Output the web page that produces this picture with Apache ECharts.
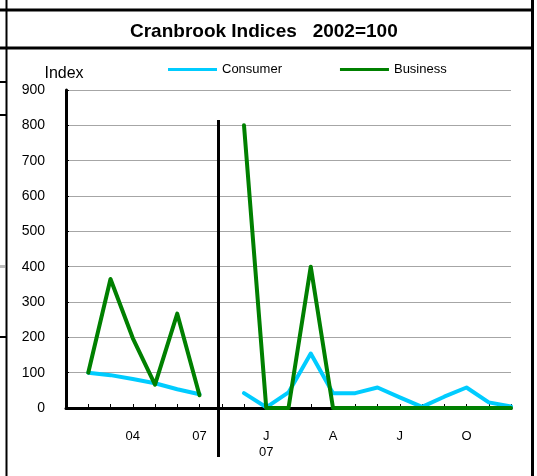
<!DOCTYPE html>
<html>
<head>
<meta charset="utf-8">
<script src="https://cdn.jsdelivr.net/npm/echarts@6/dist/echarts.min.js"></script>
<style>
html,body{margin:0;padding:0;background:#fff;}
#chart{width:537px;height:476px;}
</style>
</head>
<body>
<div id="chart"></div>
<script>
// Categories (one per month; first slot is the axis origin, 8th slot is the gap between the two panels)
const categories = ['', '', '', '04', '', '', '07', '', '', 'J\n07', '', '', 'A', '', '', 'J', '', '', 'O', '', ''];
const consumer = [null, 100, 93, 82, 70, 53, 39, null, 42, 2, 44, 154, 42, 42, 58, 30, 3, 32, 58, 16, 4];
const business = [null, 100, 365, 198, 66, 267, 36, null, 800, 0, 0, 400, 0, 0, 0, 0, 0, 0, 0, 0, 0];
const yTicks = [0, 100, 200, 300, 400, 500, 600, 700, 800, 900];

const chart = echarts.init(document.getElementById('chart'), null, {renderer: 'canvas'});
const FONT = 'Liberation Sans, Arial, sans-serif';

const option = {
  backgroundColor: '#fff',
  animation: false,
  title: {
    text: 'Cranbrook Indices   2002=100',
    left: 125,
    top: 17,
    textStyle: {fontFamily: FONT, fontSize: 19, fontWeight: 'bold', color: '#000'}
  },
  legend: {
    left: 163,
    top: 58,
    itemWidth: 49,
    itemHeight: 3,
    itemGap: 58,
    icon: 'rect',
    textStyle: {fontFamily: FONT, fontSize: 13, color: '#000', padding: [0, 0, 0, 0]},
    data: ['Consumer', 'Business']
  },
  grid: {left: 66, right: 26, top: 90, bottom: 68, containLabel: false},
  xAxis: {
    type: 'category',
    data: categories,
    boundaryGap: false,
    axisLine: {lineStyle: {color: '#000', width: 3}},
    axisTick: {show: true, inside: true, length: 4, interval: 0, lineStyle: {color: '#000', width: 1}},
    axisLabel: {interval: 0, margin: 20, fontFamily: FONT, fontSize: 13, color: '#000', lineHeight: 16},
    splitLine: {show: false}
  },
  yAxis: {
    type: 'value',
    min: yTicks[0],
    max: yTicks[yTicks.length - 1],
    interval: 100,
    name: 'Index',
    nameLocation: 'end',
    nameGap: 8,
    nameTextStyle: {fontFamily: FONT, fontSize: 16, color: '#000', align: 'center', padding: [0, 4, 0, 0]},
    axisLine: {show: true, lineStyle: {color: '#000', width: 3}},
    axisTick: {show: true, inside: true, length: 3, lineStyle: {color: '#000', width: 1}},
    axisLabel: {margin: 21, fontFamily: FONT, fontSize: 14, color: '#000'},
    splitLine: {show: true, lineStyle: {color: '#a6a6a6', width: 1}}
  },
  series: [
    {
      name: 'Consumer', type: 'line', data: consumer,
      symbol: 'none', connectNulls: false,
      lineStyle: {color: '#00ccff', width: 4, join: 'round', cap: 'round'},
      itemStyle: {color: '#00ccff'},
      z: 2
    },
    {
      name: 'Business', type: 'line', data: business,
      symbol: 'none', connectNulls: false,
      lineStyle: {color: '#008000', width: 4, join: 'round', cap: 'round'},
      itemStyle: {color: '#008000'},
      z: 3
    }
  ],
  graphic: [
    // spreadsheet frame
    {type: 'line', shape: {x1: 0, y1: 10, x2: 534, y2: 10}, style: {stroke: '#000', lineWidth: 3}, z: 10},
    {type: 'line', shape: {x1: 0, y1: 48, x2: 534, y2: 48}, style: {stroke: '#000', lineWidth: 3}, z: 10},
    {type: 'line', shape: {x1: 6.5, y1: 0, x2: 6.5, y2: 476}, style: {stroke: '#000', lineWidth: 2}, z: 10},
    {type: 'line', shape: {x1: 532.5, y1: 0, x2: 532.5, y2: 476}, style: {stroke: '#000', lineWidth: 3}, z: 10},
    {type: 'line', shape: {x1: 0, y1: 82, x2: 6, y2: 82}, style: {stroke: '#000', lineWidth: 2}, z: 10},
    {type: 'line', shape: {x1: 0, y1: 115, x2: 6, y2: 115}, style: {stroke: '#000', lineWidth: 2}, z: 10},
    {type: 'line', shape: {x1: 0, y1: 337, x2: 6, y2: 337}, style: {stroke: '#000', lineWidth: 2}, z: 10},
    {type: 'rect', shape: {x: 0, y: 265, width: 5, height: 3}, style: {fill: '#bbbbbb'}, z: 10},
    // panel divider
    {type: 'line', shape: {x1: 218.5, y1: 120, x2: 218.5, y2: 457}, style: {stroke: '#000', lineWidth: 3}, z: 10}
  ]
};
chart.setOption(option);
</script>
</body>
</html>
